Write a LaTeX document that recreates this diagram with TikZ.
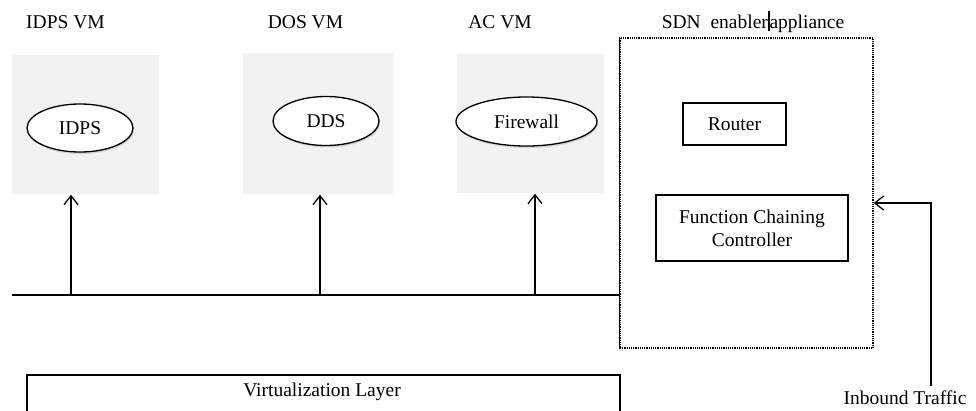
\documentclass[tikz,border=0pt]{standalone}
\usepackage{fontspec}
\setmainfont{Liberation Serif}
\usetikzlibrary{arrows.meta,shapes.geometric,shadows}

\begin{document}
\begin{tikzpicture}[x=1pt,y=-1pt,line width=1.3pt,
  font=\fontsize{19.5}{23}\selectfont,
  vmbox/.style={fill=black!5,draw=none,inner sep=0pt},
  svc/.style={ellipse,draw,fill=white,inner sep=0pt,line width=1.3pt,
    drop shadow={opacity=0.25,shadow xshift=1pt,shadow yshift=-2pt}},
  plainbox/.style={rectangle,draw,line width=1.5pt,inner sep=0pt,align=center},
  arr/.style={-{Straight Barb[length=9pt,width=14pt]}}]
\useasboundingbox (0,0) rectangle (976,410);
% virtual machines
\node[vmbox,minimum width=147,minimum height=139] (idpsvm) at (85.5,124.5) {};
\node[vmbox,minimum width=150,minimum height=141] (dosvm) at (318,123.5) {};
\node[vmbox,minimum width=147,minimum height=139] (acvm) at (530.5,123.5) {};
\node[svc,minimum width=106,minimum height=48] (idps) at (80,128) {IDPS};
\node[svc,minimum width=106,minimum height=49] (dds) at (326,121) {DDS};
\node[svc,minimum width=141,minimum height=49] (fw) at (526.5,121.5) {Firewall};
\node (idpslbl) at (65.5,22) {IDPS VM};
\node (doslbl) at (305.5,22) {DOS VM};
\node (aclbl) at (500,22) {AC VM};
% sdn appliance
\node (sdnlbl) at (753,22) {SDN\ \ enabler\rule[-0.2ex]{1.6pt}{2.2ex}appliance};
\node[draw,densely dotted,line width=1.2pt,minimum width=253,minimum height=310] (sdn) at (746.5,193) {};
\draw (sdn.north west) -- (sdn.south west);
\node[plainbox,minimum width=103,minimum height=42] (router) at (734.5,124) {Router};
\node[plainbox,minimum width=192,minimum height=66] (fcc) at (752,228) {Function Chaining\\Controller};
% bus
\coordinate (busstart) at (12,295);
\draw (busstart) -- (busstart -| sdn.west);
\coordinate (tapa) at (71,295);
\coordinate (tapb) at (320,295);
\coordinate (tapc) at (535,295);
\draw[arr] (tapa) -- (tapa |- idpsvm.south);
\draw[arr] (tapb) -- (tapb |- dosvm.south);
\draw[arr] (tapc) -- (tapc |- acvm.south);
% virtualization layer
\begin{scope}
\clip (0,0) rectangle (976,410);
\node[draw,line width=1.5pt,minimum width=593,minimum height=70] (virt) at (323.5,410) {};
\end{scope}
\node (virtlbl) at (322,392) {Virtualization Layer};
% inbound traffic
\node[inner sep=1pt] (inbound) at (905,398) {Inbound Traffic};
\coordinate (inbot) at (931,386);
\coordinate (intop) at (931,203);
\draw[arr] (inbot) -- (intop) -- (intop -| sdn.east);
\end{tikzpicture}
\end{document}
